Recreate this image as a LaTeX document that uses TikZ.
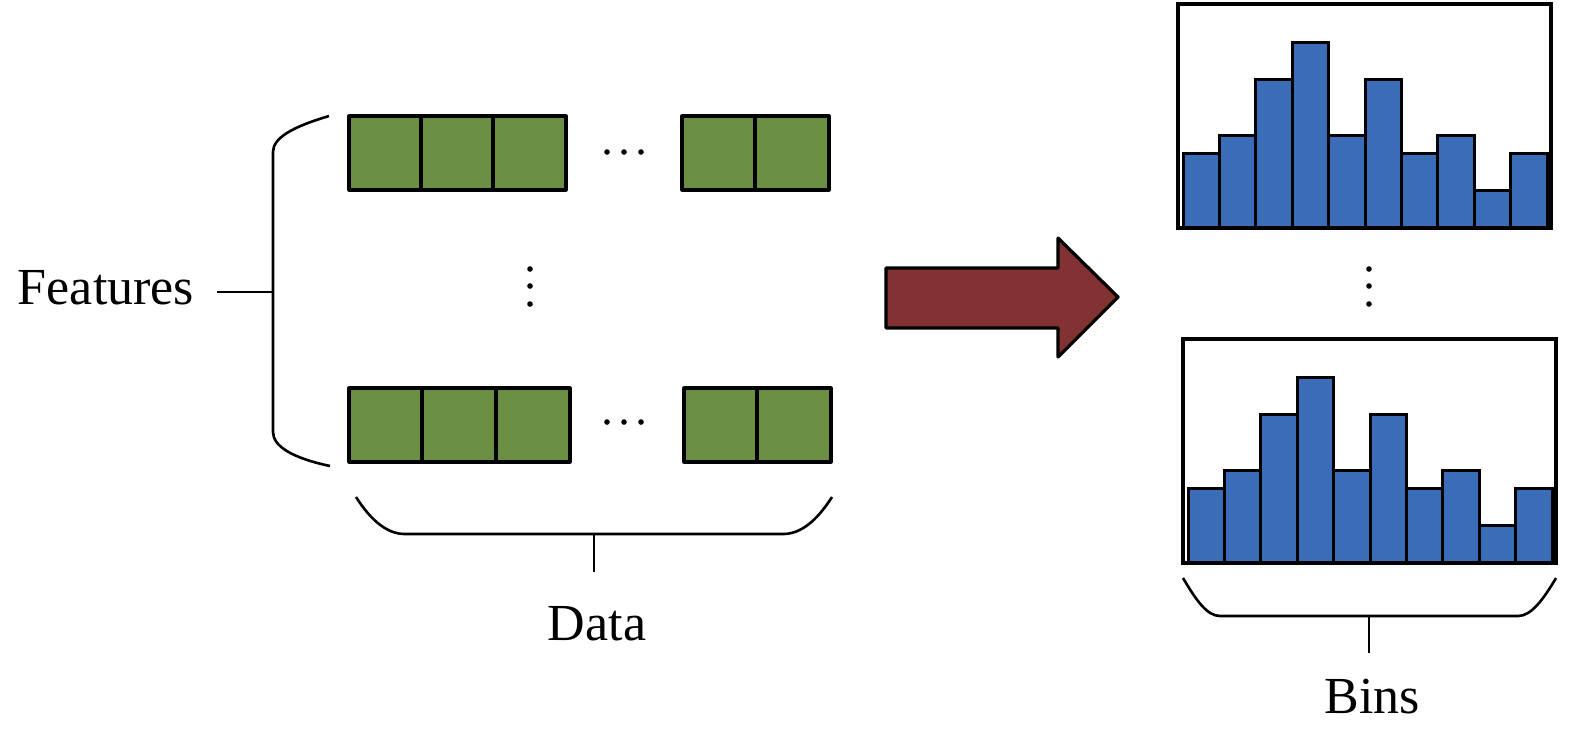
\documentclass[tikz,border=0pt]{standalone}
\usepackage{fontspec}
\setmainfont{Liberation Serif}
\usepackage{xcolor}
\definecolor{cellgreen}{RGB}{106,142,66}
\definecolor{barblue}{RGB}{58,108,184}
\definecolor{arrowred}{RGB}{131,50,52}

\begin{document}
\begin{tikzpicture}[x=0.5pt,y=-0.5pt,
        cell/.style={draw=black, fill=cellgreen, line width=1.6pt, line join=round},
        bar/.style={draw=black, fill=barblue, line width=1.5pt},
        histframe/.style={draw=black, line width=1.6pt},
        brace/.style={line width=1.3pt},
        lbl/.style={anchor=base, font=\fontsize{26}{30}\selectfont}]
        \useasboundingbox (0,0) rectangle (1575,736);

        % data rows
        \foreach \a/\b in {349/421,421/493,493/566,682/755,755/829}
            \draw[cell] (\a,116) rectangle (\b,190);
        \foreach \a/\b in {349/422,422/496,496/570,684/757,757/831}
            \draw[cell] (\a,388) rectangle (\b,462);

        % dots
        \foreach \x in {607,624,641} {
            \fill (\x,152) circle[radius=1.4pt];
            \fill (\x,422) circle[radius=1.4pt];
        }
        \foreach \y in {269,286,304} {
            \fill (530,\y) circle[radius=1.4pt];
            \fill (1369,\y) circle[radius=1.4pt];
        }

        % features brace
        \draw[brace] (329,116) .. controls (292,127) and (273,138) .. (273,152)
            -- (273,432) .. controls (273,446) and (292,458) .. (330,466);
        \coordinate (fbrace) at (273,292);
        \coordinate (ftick) at (217,292);
        \node[lbl] (feat) at (106,304) {Features};
        \draw[brace] (ftick) -- (fbrace);

        % data brace
        \draw[brace] (356,497) .. controls (372,522) and (388,534) .. (405,534)
            -- (783,534) .. controls (800,534) and (816,522) .. (832,497);
        \coordinate (dbrace) at (594,534);
        \coordinate (dtick) at (594,572);
        \draw[brace] (dbrace) -- (dtick);
        \node[lbl] (data) at (597,640) {Data};

        % big arrow
        \draw[line width=1.6pt, line join=round, fill=arrowred]
            (886,268) -- (1058,268) -- (1058,238) -- (1118,297)
            -- (1058,357) -- (1058,328) -- (886,328) -- cycle;

        % histograms
        \foreach \dx/\dy in {0/0,5/335} {
            \begin{scope}[shift={(\dx,\dy)}]
                \foreach \h [count=\i from 0] in {4,5,8,10,5,8,4,5,2,4}
                    \draw[bar] ({1183+36.4*\i},228) rectangle ({1219.4+36.4*\i},{228-18.6*\h});
                \draw[histframe] (1178,4) rectangle (1551,228);
            \end{scope}
        }

        % bins brace
        \draw[brace] (1183,578) .. controls (1196,600) and (1207,616) .. (1220,616)
            -- (1518,616) .. controls (1531,616) and (1543,600) .. (1556,578);
        \coordinate (bbrace) at (1369,616);
        \coordinate (btick) at (1369,653);
        \draw[brace] (bbrace) -- (btick);
        \node[lbl] (bins) at (1372,713) {Bins};
    \end{tikzpicture}
\end{document}
